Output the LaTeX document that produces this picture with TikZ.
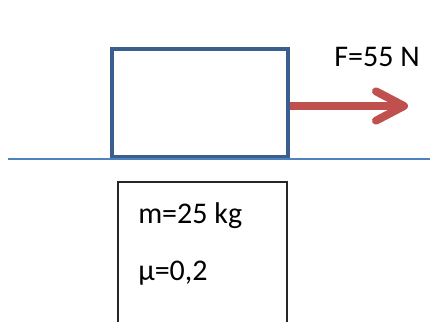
\documentclass[tikz,border=0pt]{standalone}
\usepackage{fontspec}
\setmainfont{Carlito}
\usetikzlibrary{arrows.meta,positioning,calc}

\definecolor{blockblue}{HTML}{3A5F8F}
\definecolor{groundblue}{HTML}{4F81BD}
\definecolor{forcered}{HTML}{C0504D}

\begin{document}
\begin{tikzpicture}[
  x=0.75pt, y=-0.75pt,
  block/.style={
    rectangle, draw=blockblue, line width=3pt,
    minimum width=132pt, minimum height=81pt, inner sep=0pt},
  ground/.style={draw=groundblue, line width=1.6pt},
  force/.style={
    draw=forcered, line width=6pt,
    -{Straight Barb[length=21pt, width=22pt, round]}},
  infobox/.style={draw=black!85, line width=0.9pt},
  lbl/.style={font=\fontsize{22.5}{27}\selectfont, inner sep=0pt, anchor=base west},
]
  \useasboundingbox (0,0) rectangle (430,322);

  % block on the floor
  \node[block] (block) at (200,103) {};
  \draw[ground] (8,159) -- (430,159);

  % pulling force
  \coordinate (tip) at (408,106);
  \draw[force] (block.east |- tip) -- (tip);
  \node[lbl, anchor=center] (F) at (377,57) {F=55 N};

  % data box
  \draw[infobox] (118,322) |- (287,182) -- (287,322);
  \node[lbl] (mass) at (138,223) {m=25 kg};
  \node[lbl] (mu)   at (138,280) {μ=0,2};
\end{tikzpicture}
\end{document}
